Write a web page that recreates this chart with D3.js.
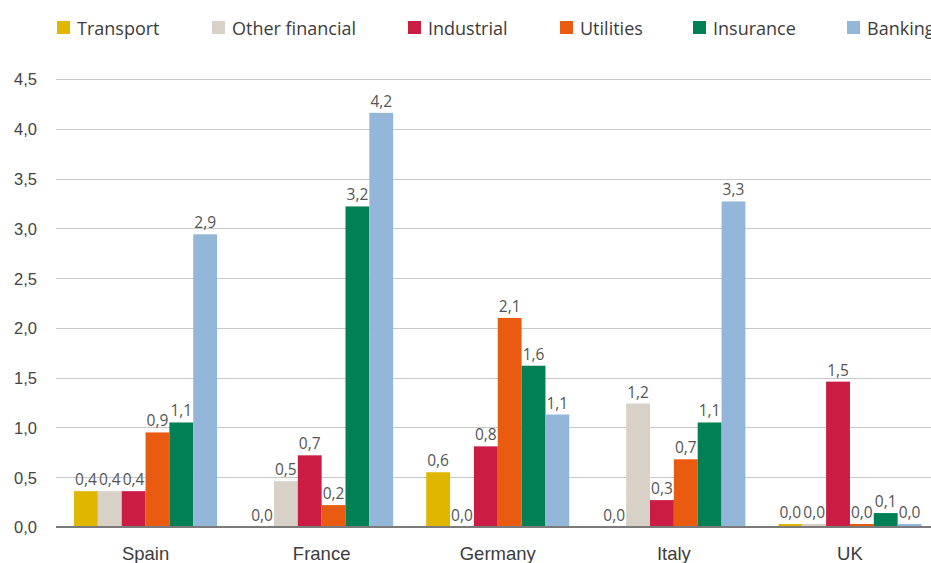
<!DOCTYPE html>
<html>
<head>
<meta charset="utf-8">
<script src="https://cdn.jsdelivr.net/npm/d3@7/dist/d3.min.js"></script>
<style>
  html, body { margin: 0; padding: 0; background: #fff; }
  svg { display: block; font-family: "Open Sans", "Noto Sans", sans-serif; }
</style>
</head>
<body>
<svg id="chart" width="931" height="563"></svg>
<script>
// Countries along the x axis
const countries = ["Spain", "France", "Germany", "Italy", "UK"];
// Sectors, drawn left to right inside each country group
const sectors = ["Transport", "Other financial", "Industrial", "Utilities", "Insurance", "Banking"];
const sectorColors = ["#e1b600", "#d8d1c7", "#cb1c44", "#e85b11", "#018055", "#93b6d9"];

// Values per sector, one entry per country (Spain, France, Germany, Italy, UK)
const transport      = [0.36, 0.00, 0.55, 0.00, 0.03];
const otherFinancial = [0.36, 0.46, 0.00, 1.24, 0.03];
const industrial     = [0.36, 0.72, 0.81, 0.27, 1.46];
const utilities      = [0.95, 0.22, 2.10, 0.68, 0.03];
const insurance      = [1.05, 3.22, 1.62, 1.05, 0.14];
const banking        = [2.94, 4.16, 1.13, 3.27, 0.03];
const seriesValues = [transport, otherFinancial, industrial, utilities, insurance, banking];

// Y axis ticks
const yTicks = [0, 0.5, 1.0, 1.5, 2.0, 2.5, 3.0, 3.5, 4.0, 4.5];

const fmt = v => d3.format(".1f")(v).replace(".", ",");

const svg = d3.select("#chart");

const plot = { left: 56, right: 938, top: 79, bottom: 527 };

const y = d3.scaleLinear().domain([0, 4.5]).range([plot.bottom, plot.top]);

const x0 = d3.scaleBand()
  .domain(countries)
  .range([57.5, 938])
  .paddingInner(0.1875)
  .paddingOuter(0.09375);

const x1 = d3.scaleBand()
  .domain(sectors)
  .range([0, x0.bandwidth()]);

// Horizontal gridlines
svg.append("g")
  .selectAll("line")
  .data(yTicks.filter(d => d > 0))
  .join("line")
  .attr("x1", plot.left)
  .attr("x2", 931)
  .attr("y1", d => Math.round(y(d)) + 0.5)
  .attr("y2", d => Math.round(y(d)) + 0.5)
  .attr("stroke", "#c8c8c8")
  .attr("stroke-width", 1);

// Y axis labels
const yAxis = d3.axisLeft(y).tickValues(yTicks).tickFormat(fmt).tickSize(0).tickPadding(0);
const yg = svg.append("g").attr("transform", `translate(37,0)`).call(yAxis);
yg.select(".domain").remove();
yg.selectAll("text")
  .attr("fill", "#444")
  .style("font-size", "16.5px")
  .attr("dy", "0.36em");

// Bars
const rows = [];
countries.forEach((c, ci) => {
  sectors.forEach((s, si) => {
    rows.push({ country: c, sector: s, value: seriesValues[si][ci], color: sectorColors[si] });
  });
});

svg.append("g")
  .selectAll("rect")
  .data(rows)
  .join("rect")
  .attr("x", d => x0(d.country) + x1(d.sector))
  .attr("width", x1.bandwidth())
  .attr("y", d => y(d.value))
  .attr("height", d => y(0) - y(d.value))
  .attr("fill", d => d.color);

// Baseline
svg.append("line")
  .attr("x1", plot.left)
  .attr("x2", 931)
  .attr("y1", y(0))
  .attr("y2", y(0))
  .attr("stroke", "#7a7a7a")
  .attr("stroke-width", 2);

// Value labels
svg.append("g")
  .selectAll("text")
  .data(rows)
  .join("text")
  .attr("x", d => x0(d.country) + x1(d.sector) + x1.bandwidth() / 2)
  .attr("y", d => y(d.value) - 6)
  .attr("text-anchor", "middle")
  .attr("fill", "#555")
  .style("font-size", "15.5px")
  .text(d => fmt(d.value));

// Category labels
const xAxis = d3.axisBottom(x0).tickSize(0).tickPadding(0);
const xg = svg.append("g").attr("transform", `translate(0,${plot.bottom})`).call(xAxis);
xg.select(".domain").remove();
xg.selectAll("text")
  .attr("y", 33)
  .attr("dy", 0)
  .attr("fill", "#3c3c3c")
  .style("font-size", "18.5px");

// Legend (the last entry runs past the right edge of the frame)
const legendX = [57, 212, 408, 560, 693, 847];
const legend = svg.append("g")
  .selectAll("g")
  .data(sectors)
  .join("g")
  .attr("transform", (d, i) => `translate(${legendX[i]},21)`);
legend.append("rect")
  .attr("width", 13).attr("height", 13)
  .attr("fill", (d, i) => sectorColors[i]);
legend.append("text")
  .attr("x", 20).attr("y", 13.5)
  .attr("fill", "#3c3c3c")
  .style("font-size", "18px")
  .text(d => d);
</script>
</body>
</html>
